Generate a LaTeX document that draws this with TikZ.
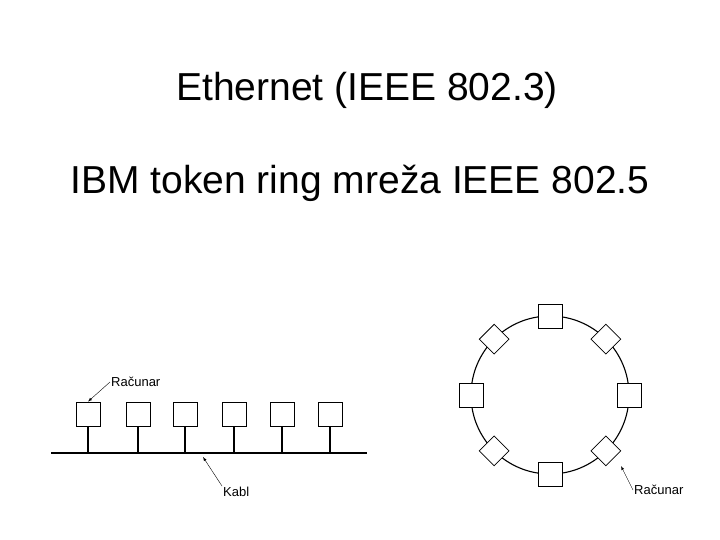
\documentclass[tikz,border=0pt]{standalone}
\usepackage{fontspec}
\setmainfont{Liberation Sans}
\usetikzlibrary{calc}
\begin{document}
\begin{tikzpicture}[x=1pt,y=-1pt,
  box/.style={draw,thick,fill=white,minimum size=24pt,inner sep=0pt},
  dbox/.style={box,rotate=45,minimum size=21pt},
  lab/.style={font=\fontsize{13}{14}\selectfont,inner sep=1pt},
  ptr/.style={-latex,thin},
  line/.style={line width=1.1pt}]
\useasboundingbox (0,0) rectangle (720,540);
\node[font=\fontsize{39}{44}\selectfont] (t1) at (367,90) {Ethernet (IEEE 802.3)};
\node[font=\fontsize{39}{44}\selectfont] (t2) at (360,183) {IBM token ring mreža IEEE 802.5};
% bus
\coordinate (cl) at (51,453); \coordinate (cr) at (367,453);
\draw[line] (cl) -- (cr);
\foreach \i/\x in {1/88,2/138,3/185,4/234,5/282,6/330}{
  \node[box] (b\i) at (\x,414) {};
  \coordinate (j\i) at (\x,453);
  \draw[line] (b\i.south) -- (j\i);
}
\node[lab,anchor=west] (rl) at (110,382) {Računar};
\draw[ptr] (rl.west) -- (b1.north);
\node[lab,anchor=west] (kl) at (222,492) {Kabl};
\coordinate (kp) at (203,457);
\draw[ptr] (kl.north west) -- (kp);
% ring
\coordinate (c) at (550,395);
\draw[line] (c) circle (79);
\foreach \i/\a in {1/90,3/0,5/270,7/180}{
  \node[box] (r\i) at ($(c)+(\a:79)$) {};
}
\foreach \i/\a in {2/45,4/315,6/225,8/135}{
  \node[dbox] (r\i) at ($(c)+(\a:79)$) {};
}
\coordinate (rp) at (621,466);
\node[lab,anchor=west] (rl2) at (633,490) {Računar};
\draw[ptr] (rl2.west) -- (rp);
\end{tikzpicture}
\end{document}
